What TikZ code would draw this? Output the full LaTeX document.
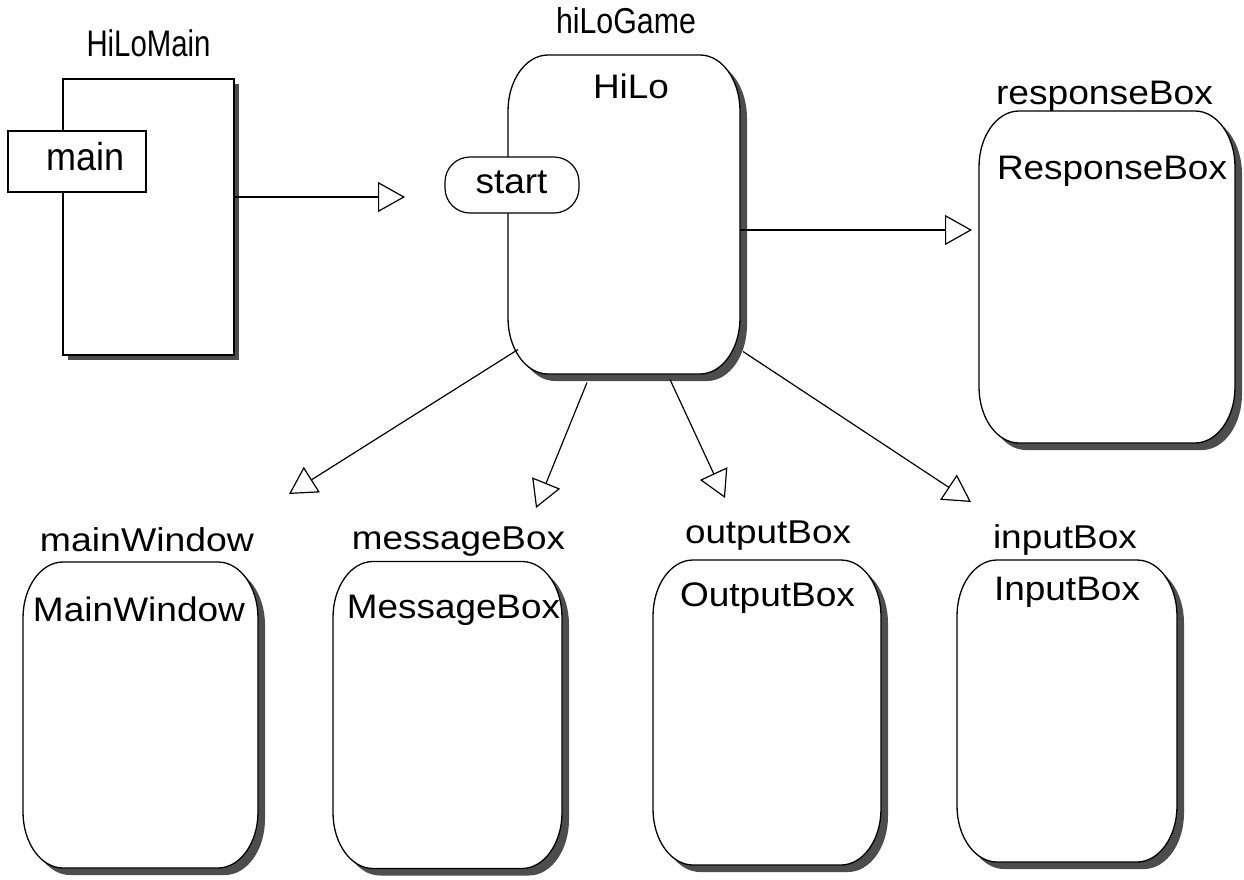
\documentclass[tikz,border=0pt]{standalone}
\usepackage{fontspec}
\usepackage{graphicx}
\setmainfont{Liberation Sans}
\usetikzlibrary{arrows.meta,calc,shadows}
\definecolor{shade}{HTML}{4D4D4D}

% label text: font size, set width, text
\newcommand\lbl[3]{{\fontsize{#1}{#1}\selectfont\resizebox{#2}{\height}{#3}}}

% corner radii of the object frames
\def\rx{40pt}
\def\ry{56pt}

% object frame with elliptic corners around an (invisible) node; #2 = offset, #3 = style
\newcommand\ovalat[3]{%
  \path[#3] let \p1=(#1.south west), \p2=(#1.north east) in
    (\x1+#2,\y1+\ry-#2) -- (\x1+#2,\y2-\ry-#2)
    arc[start angle=180,end angle=90,x radius=\rx,y radius=\ry]
    -- (\x2-\rx+#2,\y2-#2)
    arc[start angle=90,end angle=0,x radius=\rx,y radius=\ry]
    -- (\x2+#2,\y1+\ry-#2)
    arc[start angle=0,end angle=-90,x radius=\rx,y radius=\ry]
    -- (\x1+\rx+#2,\y1-#2)
    arc[start angle=270,end angle=180,x radius=\rx,y radius=\ry]
    -- cycle;}

\tikzset{
  area/.style={inner sep=0pt, outer sep=0pt},
  txt/.style={inner sep=0pt, outer sep=0pt, anchor=base},
  objshadow/.style={fill=shade},
  objline/.style={draw=black, fill=white, line width=1.3pt},
  classrect/.style={draw=black, fill=white, line width=1.8pt, inner sep=0pt,
    drop shadow={shadow xshift=5pt, shadow yshift=-5pt, fill=shade, opacity=1}},
  methodbox/.style={draw=black, fill=white, line width=1.5pt, inner sep=0pt},
  portbox/.style={draw=black, fill=white, line width=1.2pt, inner sep=0pt, rounded corners=25pt},
  conn/.style={line width=1.2pt, -{Triangle[open, length=27pt, width=30pt]}},
}

\begin{document}
\begin{tikzpicture}[x=1pt,y=1pt]
\useasboundingbox (0,0) rectangle (1244,-879);

% ---- HiLoMain class with its main method
\node[classrect, minimum width=171pt, minimum height=276pt] (hilomain) at (148.5,-217) {};
\node[methodbox, minimum width=138pt, minimum height=61pt] (mainbox) at (77,-161.5) {};
\node[txt] (mainT) at (85.5,-170) {\lbl{39}{78pt}{main}};
\node[txt] (hilomainT) at (148.5,-56) {\lbl{37}{124pt}{HiLoMain}};

% ---- object areas
\node[area, minimum width=232pt, minimum height=319pt] (hilo) at (624,-214.5) {};
\node[area, minimum width=256pt, minimum height=332pt] (resp) at (1107,-277) {};
\node[area, minimum width=235pt, minimum height=306pt] (mainwin) at (140.5,-715) {};
\node[area, minimum width=229pt, minimum height=307pt] (msg) at (447.5,-715) {};
\node[area, minimum width=228pt, minimum height=305pt] (out) at (767,-712.5) {};
\node[area, minimum width=220pt, minimum height=302pt] (inp) at (1067,-711) {};

\foreach \o in {hilo,resp,mainwin,msg,out,inp}{
  \ovalat{\o}{7pt}{objshadow}
  \ovalat{\o}{0pt}{objline}
}

% ---- start port on hiLoGame
\node[portbox, minimum width=134pt, minimum height=56pt] (startbox) at (512,-185) {};
\node[txt] (startT) at (511.5,-193) {\lbl{35}{72pt}{start}};

% ---- object names and classes
\node[txt] (hilogameT) at (626,-33) {\lbl{36}{140pt}{hiLoGame}};
\node[txt] (hiloT) at (631,-98) {\lbl{34}{76pt}{HiLo}};
\node[txt] (respT) at (1104.5,-104) {\lbl{34}{217pt}{responseBox}};
\node[txt] (respC) at (1112,-179) {\lbl{34}{230pt}{ResponseBox}};
\node[txt] (mainwinT) at (147,-551) {\lbl{33}{214pt}{mainWindow}};
\node[txt] (mainwinC) at (139,-621) {\lbl{34}{212pt}{MainWindow}};
\node[txt] (msgT) at (458.5,-549) {\lbl{33}{213pt}{messageBox}};
\node[txt] (msgC) at (453.5,-618) {\lbl{34}{213pt}{MessageBox}};
\node[txt] (outT) at (768,-543) {\lbl{33}{166pt}{outputBox}};
\node[txt] (outC) at (767.5,-606) {\lbl{34}{175pt}{OutputBox}};
\node[txt] (inpT) at (1065,-548) {\lbl{33}{144pt}{inputBox}};
\node[txt] (inpC) at (1067,-600) {\lbl{34}{146pt}{InputBox}};

% ---- message arrows
\coordinate (tipStart) at (405,-197);
\coordinate (tipResp) at (972,-230);
\coordinate (tipMainWin) at (289,-494);
\coordinate (tipMsg) at (536,-508);
\coordinate (tipOut) at (725,-498);
\coordinate (tipInp) at (971,-502);

\draw[conn] ([yshift=20pt]hilomain.east) -- (tipStart);
\draw[conn] ([yshift=-15.5pt]hilo.east) -- (tipResp);
\draw[conn] ([shift={(-106pt,24.5pt)}]hilo.south) -- (tipMainWin);
\draw[conn] ([shift={(-37pt,-8.5pt)}]hilo.south) -- (tipMsg);
\draw[conn] ([shift={(46pt,-5.5pt)}]hilo.south) -- (tipOut);
\draw[conn] ([shift={(119pt,22.5pt)}]hilo.south) -- (tipInp);
\end{tikzpicture}
\end{document}
